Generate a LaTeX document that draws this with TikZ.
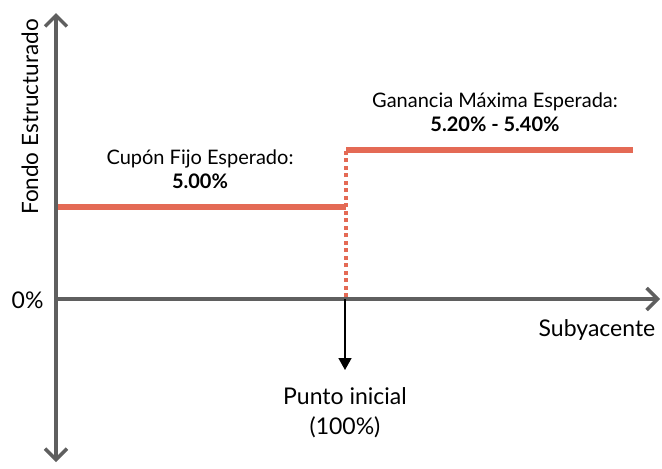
\documentclass[tikz,border=0pt]{standalone}
\usepackage{fontspec}
\setmainfont{Lato}
\usetikzlibrary{arrows.meta}
\definecolor{axisgray}{HTML}{5F5F5F}
\definecolor{payred}{HTML}{E46A55}

\begin{document}
\begin{tikzpicture}[x=1pt, y=-1pt, font=\fontsize{23}{30}\selectfont,
    barb/.tip={Straight Barb[length=11pt, width=22pt, line width=3.5pt]},
    axis/.style={draw=axisgray, line width=3.5pt},
    payoff/.style={draw=payred, line width=6pt},
    tag/.style={font=\fontsize{20}{24}\selectfont, align=center}]
    \useasboundingbox (0,0) rectangle (662,469);
    \coordinate (ytop) at (56,13);
    \coordinate (ybot) at (56,462);
    \coordinate (o) at (56,299);
    \coordinate (xend) at (660,299);
    \coordinate (p) at (345,299);
    \coordinate (low1) at (58,207);
    \coordinate (low2) at (346,207);
    \coordinate (high1) at (346,150);
    \coordinate (high2) at (633,150);
    \node (zero) [anchor=east] at (47,300) {0\%};
    \node (fondo) [rotate=90, font=\fontsize{22.5}{27}\selectfont] at (30,117) {Fondo Estructurado};
    \node (sub) at (597,330) {Subyacente};
    \node (punto) [align=center] at (345,413) {Punto inicial\\(100\%)};
    \node (cupon) [tag] at (200,169) {Cupón Fijo Esperado:\\\textbf{5.00\%}};
    \node (ganancia) [tag] at (495,112) {Ganancia Máxima Esperada:\\\textbf{5.20\% - 5.40\%}};
    % axes
    \draw [axis, barb-barb] (ybot) -- (ytop);
    \draw [axis, -barb] (o) -- (xend);
    % payoff
    \draw [payoff] (low1) -- (low2);
    \draw [payoff] (high1) -- (high2);
    \draw [draw=payred, line width=4pt, dash pattern=on 4pt off 3.5pt] (346,297) -- (high1);
    \draw [line width=1.6pt, -{Triangle[length=12pt, width=13pt]}] (p) -- (345,370);
\end{tikzpicture}
\end{document}
